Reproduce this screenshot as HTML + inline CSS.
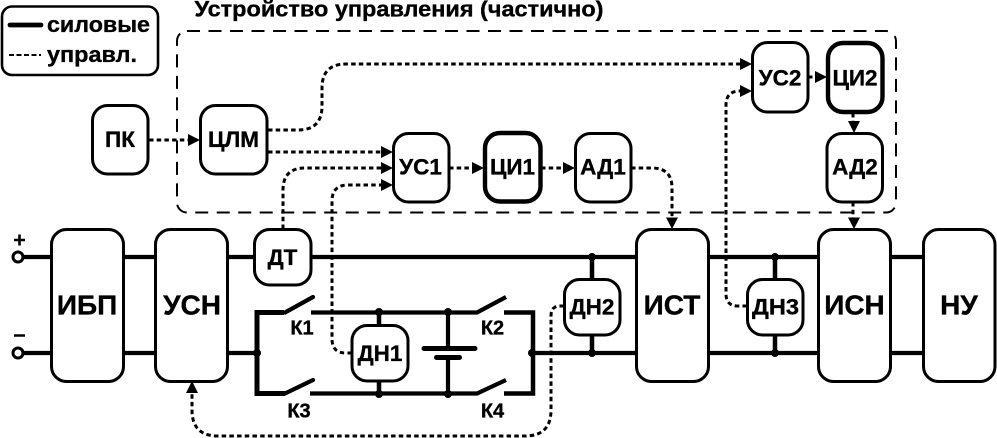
<!DOCTYPE html>
<html><head><meta charset="utf-8"><style>
html,body{margin:0;padding:0;background:#fff;width:997px;height:438px;overflow:hidden}
svg{display:block}
text{font-family:"Liberation Sans",sans-serif;font-weight:bold;fill:#000;text-anchor:middle;stroke:#000;stroke-width:.35px}
.b{fill:#fff;stroke:#000;stroke-width:3}
.t{fill:#fff;stroke:#000;stroke-width:4.400}
.p{fill:none;stroke:#000;stroke-width:4.200}
.d{fill:none;stroke:#000;stroke-width:3;stroke-dasharray:4.500 3.200}
.s{font-size:22.500px}
.l{font-size:28px}
.k{font-size:20px}
</style></head><body>
<svg width="997" height="438" viewBox="0 0 997 438" xmlns="http://www.w3.org/2000/svg">
<!-- legend -->
<rect x="2" y="6.500" width="156" height="68.500" rx="10" fill="#fff" stroke="#000" stroke-width="2.600"/>
<line x1="10" y1="25" x2="41" y2="25" stroke="#000" stroke-width="4.800" stroke-linecap="round"/>
<line x1="9" y1="55" x2="41" y2="55" stroke="#000" stroke-width="2" stroke-dasharray="5 2.500"/>
<text x="98.500" y="32" font-size="22" textLength="103" lengthAdjust="spacingAndGlyphs">силовые</text>
<text x="92" y="62" font-size="22" textLength="90" lengthAdjust="spacingAndGlyphs">управл.</text>
<!-- title -->
<text x="399" y="16.500" font-size="22" textLength="409" lengthAdjust="spacingAndGlyphs">Устройство управления (частично)</text>
<!-- dashed container -->
<rect x="177" y="31" width="719" height="181.500" rx="10" fill="none" stroke="#000" stroke-width="2" stroke-dasharray="13 8.500"/>
<!-- power lines -->
<g class="p">
<path d="M24,257H51M124,257H155M228,257H254M311,257H636M709,257H818M891,257H923"/>
<path d="M24,353H51M124,353H155M228,353H257M533,353H636M709,353H818M891,353H923"/>
<path d="M284,312.500H257V393.500H285" stroke-width="5"/>
<path d="M285,312.500L313,297M285,393.500L313,380" stroke-linecap="round"/>
<path d="M311,312.500H477L506,297M310,393.500H477L506,380"/>
<path d="M504,312.500H533V393.500H504" stroke-width="4.500"/>
<path d="M379,312V393M592,257V353M775,257V353" stroke-width="4.500"/>
<path d="M448,312V348M448,357V393" />
<path d="M424,348.500H475M436.500,357.500H459.500" stroke-width="5" stroke-linecap="round"/>
</g>
<g fill="#000">
<circle cx="257" cy="353" r="4"/><circle cx="532" cy="353" r="4"/>
<circle cx="379" cy="312" r="4"/><circle cx="448" cy="312" r="4"/>
<circle cx="379" cy="394" r="4"/><circle cx="448" cy="394" r="4"/>
<circle cx="592" cy="257" r="4"/><circle cx="592" cy="353" r="4"/>
<circle cx="775" cy="257" r="4"/><circle cx="775" cy="353" r="4"/>
</g>
<circle cx="18" cy="257" r="5" fill="#fff" stroke="#000" stroke-width="3"/>
<circle cx="18" cy="353" r="5" fill="#fff" stroke="#000" stroke-width="3"/>
<path d="M14,240H25M19.500,234.500V245.500M14,335.500H25" stroke="#000" stroke-width="2.600" fill="none"/>
<!-- control dashed -->
<path class="d" d="M149,140H190"/>
<path class="d" d="M268,130H298Q322,130 322,106V88Q322,64 346,64H742"/>
<path class="d" d="M268,152H384"/>
<path class="d" d="M283,229V190Q283,168 305,168H384"/>
<path class="d" d="M352,353H346Q332,353 332,339V201Q332,185 348,185H384"/>
<path class="d" d="M449,168H476"/>
<path class="d" d="M541,168H567"/>
<path class="d" d="M631,168H652Q672,168 672,188V218"/>
<path class="d" d="M808,77H818"/>
<path class="d" d="M853,113V122"/>
<path class="d" d="M853,202V218"/>
<path class="d" d="M747,306H738Q726,306 726,294V105Q726,91 740,91H744"/>
<path class="d" d="M564,306H560Q551,306 551,316V410Q551,436 525,436H218Q192,436 192,410V392"/>
<!-- arrowheads -->
<g fill="#000">
<path d="M200,140L188,134V146Z"/>
<path d="M393,152L381,146V158Z"/>
<path d="M393,168L381,162V174Z"/>
<path d="M393,185L381,179V191Z"/>
<path d="M484,168L472,162V174Z"/>
<path d="M575,168L563,162V174Z"/>
<path d="M752,64L740,58V70Z"/>
<path d="M752,91L740,85V97Z"/>
<path d="M827,77L815,71V83Z"/>
<path d="M854,133L848,121H860Z"/>
<path d="M672,229L666,217.500H678Z"/>
<path d="M854,229L848,217.500H860Z"/>
<path d="M192,381L186,393H198Z"/>
</g>
<!-- control nodes -->
<rect class="b" x="92.500" y="105.500" width="55.500" height="68.500" rx="15"/>
<rect class="b" x="200.500" y="105.500" width="66.500" height="68.500" rx="15"/>
<rect class="b" x="393.500" y="133.500" width="55.500" height="68.500" rx="15"/>
<rect class="t" x="485" y="133" width="55.500" height="68.500" rx="15"/>
<rect class="b" x="575.500" y="133.500" width="55.500" height="68.500" rx="15"/>
<rect class="b" x="752.500" y="42.500" width="55.500" height="69.500" rx="15"/>
<rect class="t" x="828" y="43" width="54.500" height="69" rx="15"/>
<rect class="b" x="827" y="133.500" width="55.500" height="68.500" rx="15"/>
<!-- power nodes -->
<rect class="b" x="51.500" y="229.500" width="72" height="152" rx="15"/>
<rect class="b" x="155.500" y="229.500" width="72" height="152" rx="15"/>
<rect class="b" x="254.500" y="229.500" width="56.500" height="55.500" rx="15"/>
<rect class="b" x="636.500" y="229.500" width="72" height="152" rx="15"/>
<rect class="b" x="818.500" y="229.500" width="72" height="152" rx="15"/>
<rect class="b" x="923.500" y="229.500" width="71.500" height="152" rx="15"/>
<rect class="b" x="352" y="325.500" width="56" height="55.500" rx="15"/>
<rect class="b" x="564.500" y="279.500" width="55.500" height="55.500" rx="15"/>
<rect class="b" x="747.500" y="279.500" width="55.500" height="55.500" rx="15"/>
<!-- labels -->
<g class="s">
<text x="120" y="147">ПК</text>
<text x="233.500" y="147">ЦЛМ</text>
<text x="420.500" y="174.500">УС1</text>
<text x="512.500" y="174.500">ЦИ1</text>
<text x="603" y="174.500">АД1</text>
<text x="780" y="85.500">УС2</text>
<text x="855" y="85.500">ЦИ2</text>
<text x="855" y="174.500">АД2</text>
<text x="282.500" y="265">ДТ</text>
<text x="380" y="361">ДН1</text>
<text x="592" y="314.500">ДН2</text>
<text x="775.500" y="314.500" textLength="47" lengthAdjust="spacingAndGlyphs">ДН3</text>
</g>
<g class="l">
<text x="87" y="314.500">ИБП</text>
<text x="192" y="314.500">УСН</text>
<text x="672" y="314.500">ИСТ</text>
<text x="854.500" y="314.500">ИСН</text>
<text x="959" y="314.500">НУ</text>
</g>
<g class="k">
<text x="302" y="334.500">К1</text>
<text x="299" y="417.500">К3</text>
<text x="492.500" y="334.500">К2</text>
<text x="492.500" y="417.500">К4</text>
</g>
</svg>
</body></html>
